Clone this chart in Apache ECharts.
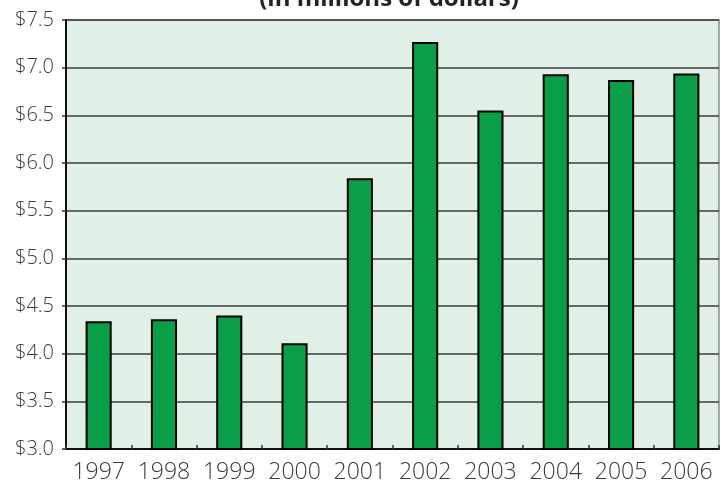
<!DOCTYPE html>
<html>
<head>
<meta charset="utf-8">
<script src="https://cdn.jsdelivr.net/npm/echarts@6/dist/echarts.min.js"></script>
<style>
  html, body { margin: 0; padding: 0; background: #fff; }
  #chart { width: 727px; height: 487px; }
</style>
</head>
<body>
<div id="chart"></div>
<script>
const years = ["1997", "1998", "1999", "2000", "2001", "2002", "2003", "2004", "2005", "2006"];
const revenue = [4.34, 4.36, 4.40, 4.11, 5.84, 7.27, 6.55, 6.93, 6.87, 6.94];
const yMin = 3.0;
const yMax = 7.5;
const yStep = 0.5;
const subtitle = "(in millions of dollars)";

const myChart = echarts.init(document.getElementById("chart"));

const options = {
  animation: false,
  graphic: [
    {
      // subtitle is cut off by the top edge in the original
      type: "text",
      x: 389,
      y: 11,
      style: {
        text: subtitle,
        fill: "#222",
        font: "bold 24px 'Open Sans'",
        textAlign: "center",
        textVerticalAlign: "bottom",
      },
    },
  ],
  grid: {
    left: 66,
    right: 8,
    top: 20,
    bottom: 38,
    show: true,
    backgroundColor: "#E1F0E6",
    borderColor: "#8a8a8a",
    borderWidth: 1.5,
  },
  xAxis: {
    type: "category",
    data: years,
    axisLine: { show: true, lineStyle: { color: "#111", width: 2 } },
    axisTick: {
      show: true,
      inside: true,
      length: 4,
      lineStyle: { color: "#333", width: 1.5 },
    },
    axisLabel: {
      interval: 0,
      color: "#3a3a3a",
      fontFamily: "Open Sans",
      fontWeight: 300,
      fontSize: 23,
      margin: 12,
    },
  },
  yAxis: {
    type: "value",
    min: yMin,
    max: yMax,
    interval: yStep,
    axisLine: { show: true, lineStyle: { color: "#111", width: 2 } },
    axisTick: { show: true, length: 4, lineStyle: { color: "#333", width: 1.5 } },
    axisLabel: {
      color: "#3a3a3a",
      fontFamily: "Open Sans",
      fontWeight: 300,
      fontSize: 20,
      margin: 12,
      formatter: (v) => "$" + v.toFixed(1),
    },
    splitLine: { show: true, lineStyle: { color: "#3c3c3c", width: 1.5 } },
  },
  series: [
    {
      type: "bar",
      data: revenue,
      barWidth: "40%",
      itemStyle: {
        color: "#0A9E48",
        borderColor: "#000",
        borderWidth: 2,
      },
    },
  ],
};

myChart.setOption(options);
</script>
</body>
</html>
